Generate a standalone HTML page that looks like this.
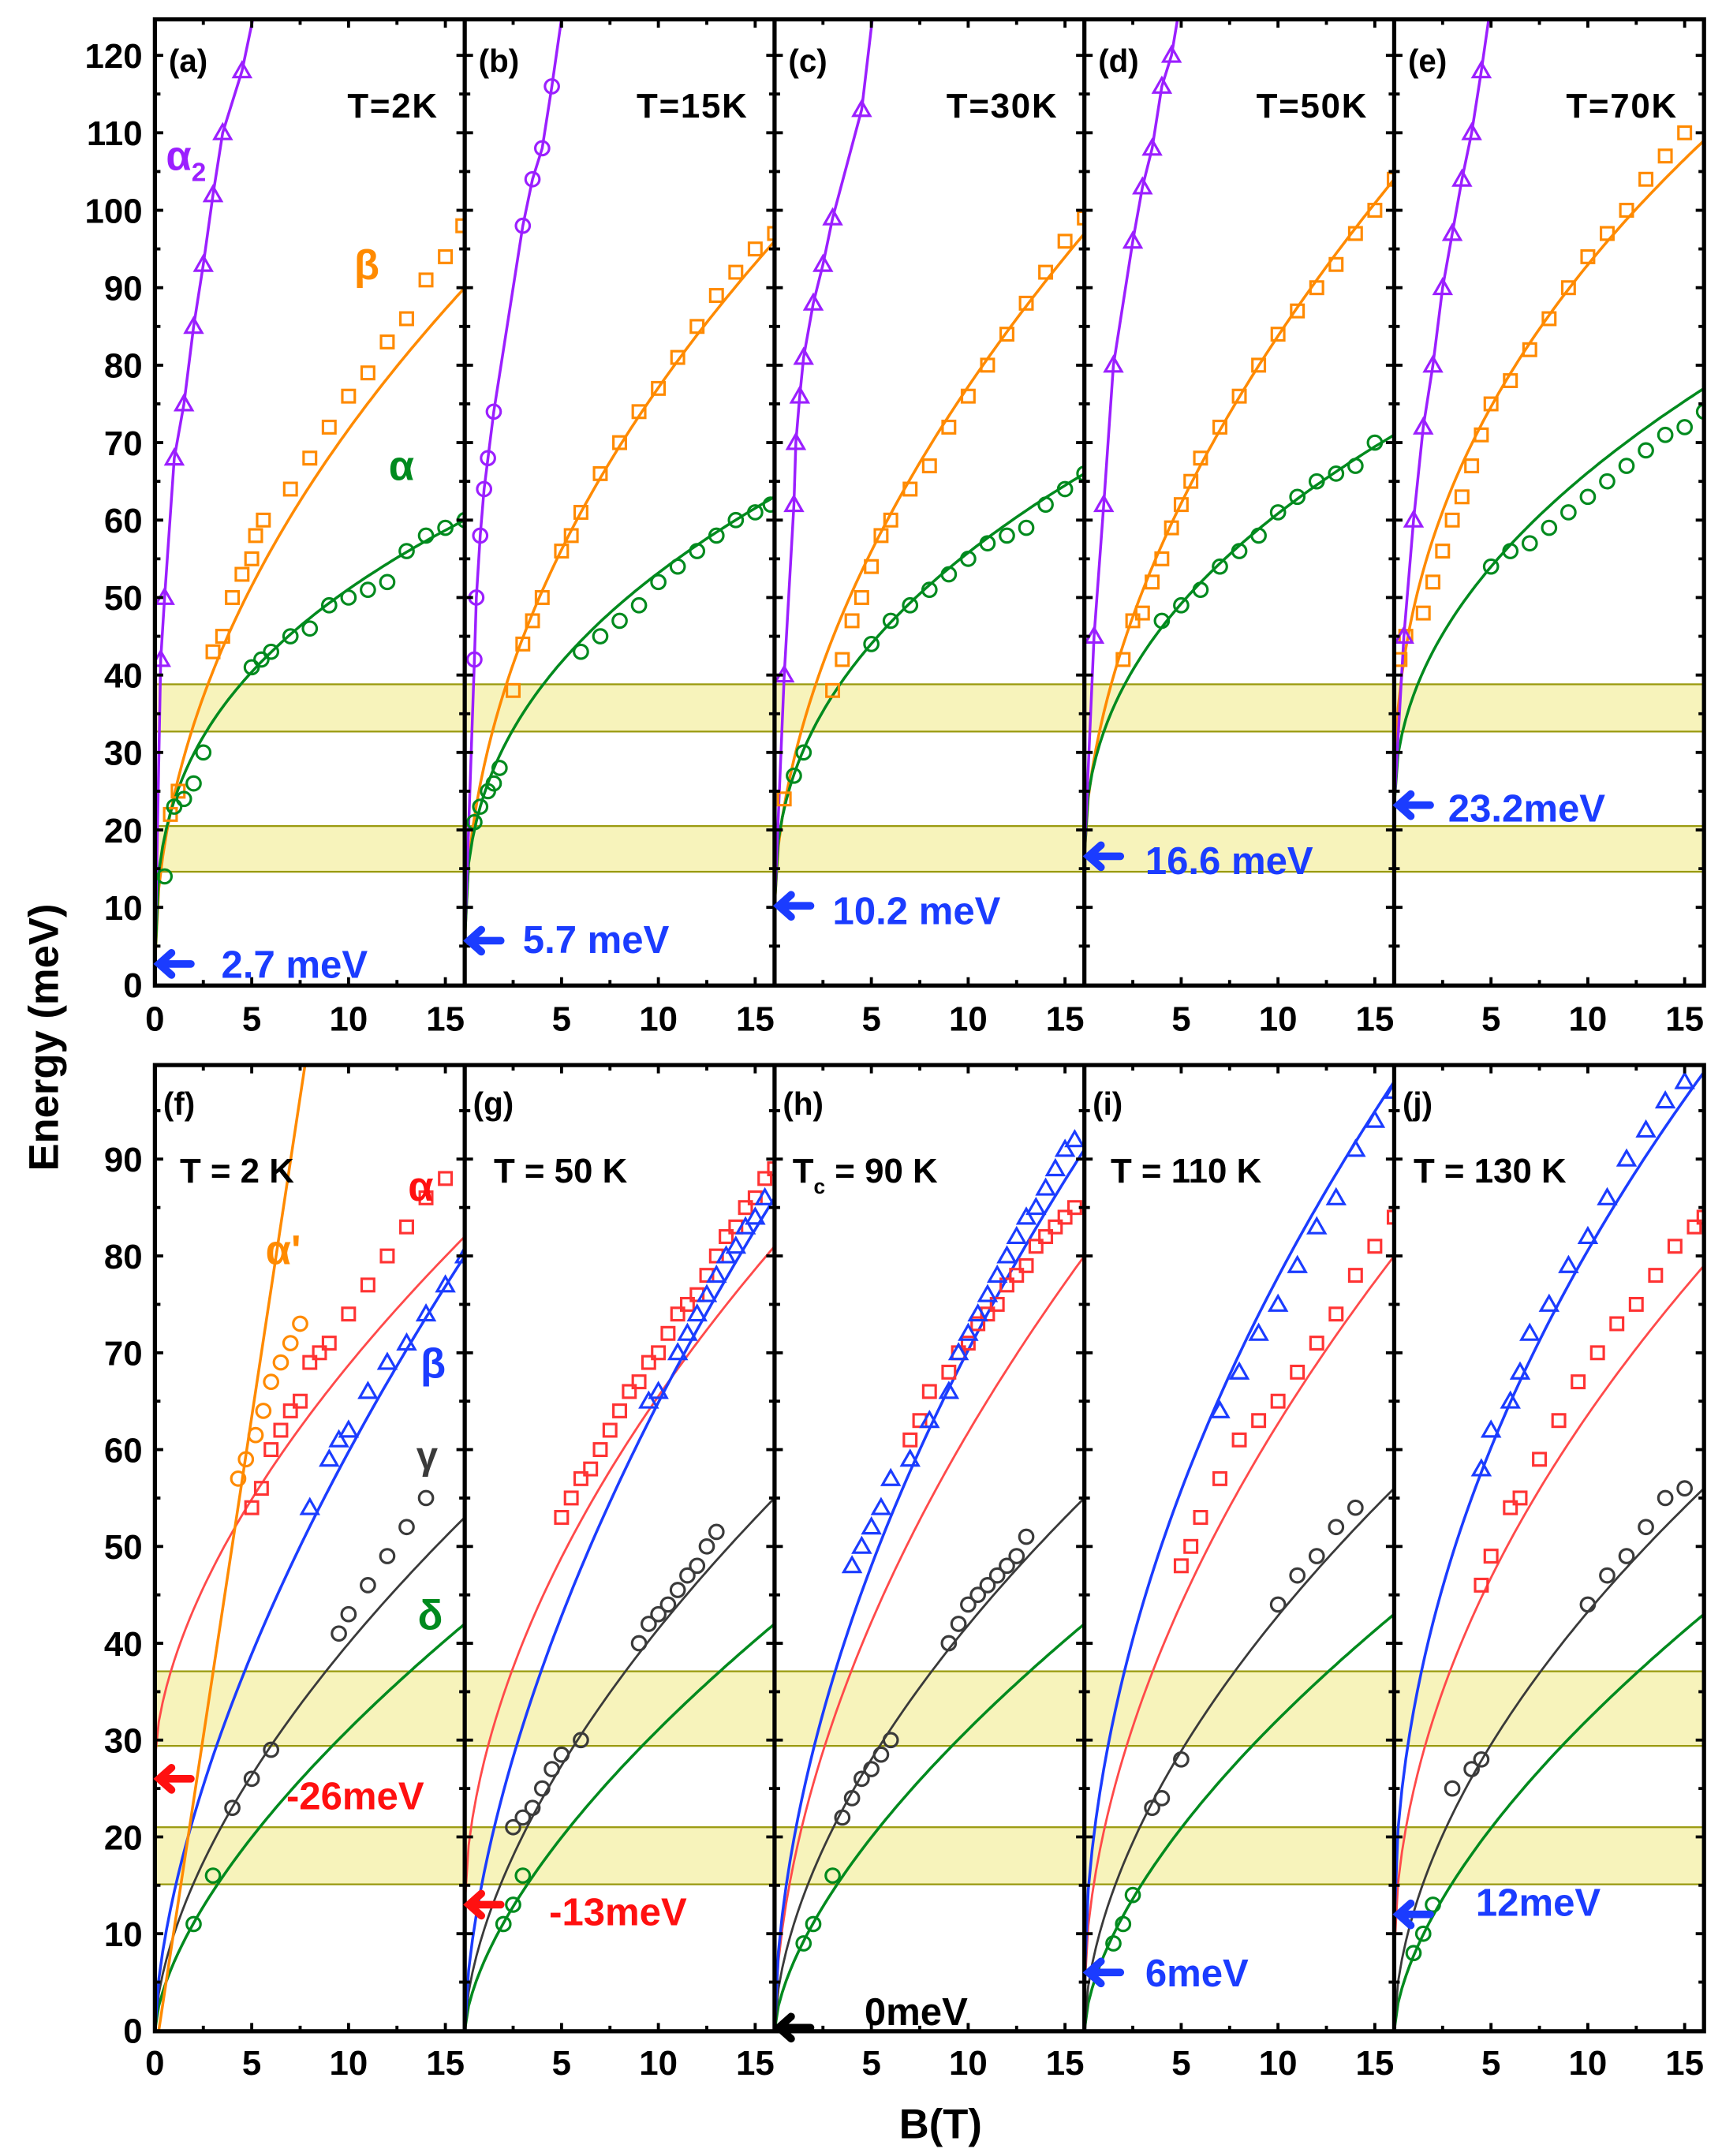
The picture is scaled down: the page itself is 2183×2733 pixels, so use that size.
<!DOCTYPE html>
<html><head><meta charset="utf-8">
<style>
html,body{margin:0;padding:0;background:#fff;}
svg{display:block;}
text{font-family:"Liberation Sans","DejaVu Sans",sans-serif;font-weight:bold;}
</style></head>
<body>
<svg id="s" width="2183" height="2733" viewBox="0 0 1245 1558.7" preserveAspectRatio="none" xmlns="http://www.w3.org/2000/svg"></svg>
<script>
(function(){
const S=document.getElementById('s');
let h='';
const PX=[112,336,560,784,1008];
const TOP={y0:712,k:5.6,top:14,bot:712.5,max:124.6};
const BOT={y0:1468,k:7,top:770,bot:1468.5,max:99.7};
const COL={pu:'#9b1fff',or:'#ff8a00',gr:'#008a1e',bl:'#1b3cff',re:'#ff3333',bk:'#3a3a3a',rl:'#ff4a4a'};
function X(p,b){return PX[p]+b*14;}
function Y(P,e){return P.y0-e*P.k;}
function band(P,a,b){h+=`<rect x="112" y="${Y(P,b)}" width="1120" height="${Y(P,a)-Y(P,b)}" fill="#f7f3bb" stroke="#9a9a10" stroke-width="1.3"/>`;}
band(TOP,32.7,38.8);band(TOP,14.6,20.5);
band(BOT,29.4,37.1);band(BOT,15.1,21);
h+='<defs>';
for(let i=0;i<5;i++){
 h+=`<clipPath id="ct${i}"><rect x="${PX[i]}" y="${TOP.top}" width="224" height="${TOP.bot-TOP.top}"/></clipPath>`;
 h+=`<clipPath id="cb${i}"><rect x="${PX[i]}" y="${BOT.top}" width="224" height="${BOT.bot-BOT.top}"/></clipPath>`;
}
h+='</defs>';
function curve(P,p,cid,c,E0,E16,pw,w){
 let d='';for(let i=0;i<=80;i++){const b=i/5;const e=E0+(E16-E0)*Math.pow(b/16,pw);d+=(i?'L':'M')+X(p,b).toFixed(1)+','+Y(P,e).toFixed(1);}
 h+=`<path d="${d}" fill="none" stroke="${c}" stroke-width="${w||2}" clip-path="url(#${cid})"/>`;
}
function poly(P,p,cid,c,pts,w){
 let d=pts.map((q,i)=>(i?'L':'M')+X(p,q[0]).toFixed(1)+','+Y(P,q[1]).toFixed(1)).join('');
 h+=`<path d="${d}" fill="none" stroke="${c}" stroke-width="${w||2}" clip-path="url(#${cid})"/>`;
}
function mk(P,p,cid,type,c,pts){
 let g=`<g fill="none" stroke="${c}" stroke-width="1.8" clip-path="url(#${cid})">`;
 for(const q of pts){const x=X(p,q[0]),y=Y(P,q[1]);
  if(type=='o')g+=`<circle cx="${x}" cy="${y}" r="5"/>`;
  else if(type=='s')g+=`<rect x="${x-4.5}" y="${y-4.5}" width="9" height="9"/>`;
  else g+=`<polygon points="${x},${y-6} ${x+6},${y+4.5} ${x-6},${y+4.5}"/>`;}
 h+=g+'</g>';
}
const TPD=[
 {E0:2.7,a2:[[0,2.7],[0.3,42],[0.5,50],[1,68],[1.5,75],[2,85],[2.5,93],[3,102],[3.5,110],[4.5,118],[5.5,130]],a2t:'t',
  b:[90,0.5],bp:[[0.8,22],[1.2,25],[3,43],[3.5,45],[4,50],[4.5,53],[5,55],[5.2,58],[5.6,60],[7,64],[8,68],[9,72],[10,76],[11,79],[12,83],[13,86],[14,91],[15,94],[15.9,98]],
  a:[60,0.36],ap:[[0.5,14],[1,23],[1.5,24],[2,26],[2.5,30],[5,41],[5.5,42],[6,43],[7,45],[8,46],[9,49],[10,50],[11,51],[12,52],[13,56],[14,58],[15,59],[16,60]]},
 {E0:5.7,a2:[[0,5.7],[0.5,42],[0.6,50],[0.8,58],[1,64],[1.2,68],[1.5,74],[3,98],[3.5,104],[4,108],[4.5,116],[5.3,130]],a2t:'o',
  b:[96,0.5],bp:[[2.5,38],[3,44],[3.5,47],[4,50],[5,56],[5.5,58],[6,61],[7,66],[8,70],[9,74],[10,77],[11,81],[12,85],[13,89],[14,92],[15,95],[16,97]],
  a:[63,0.4],ap:[[0.5,21],[0.8,23],[1.2,25],[1.5,26],[1.8,28],[6,43],[7,45],[8,47],[9,49],[10,52],[11,54],[12,56],[13,58],[14,60],[15,61],[15.8,62]]},
 {E0:10.2,a2:[[0,10.2],[0.5,40],[1,62],[1.1,70],[1.3,76],[1.5,81],[2,88],[2.5,93],[3,99],[4.5,113],[5.3,130]],a2t:'t',
  b:[97,0.55],bp:[[0.5,24],[3,38],[3.5,42],[4,47],[4.5,50],[5,54],[5.5,58],[6,60],[7,64],[8,67],[9,72],[10,76],[11,80],[12,84],[13,88],[14,92],[15,96],[16,99]],
  a:[66,0.43],ap:[[1,27],[1.5,30],[5,44],[6,47],[7,49],[8,51],[9,53],[10,55],[11,57],[12,58],[13,59],[14,62],[15,64],[16,66]]},
 {E0:16.6,a2:[[0,16.6],[0.5,45],[1,62],[1.5,80],[2.5,96],[3,103],[3.5,108],[4,116],[4.5,120],[5.3,132]],a2t:'t',
  b:[104,0.56],bp:[[2,42],[2.5,47],[3,48],[3.5,52],[4,55],[4.5,59],[5,62],[5.5,65],[6,68],[7,72],[8,76],[9,80],[10,84],[11,87],[12,90],[13,93],[14,97],[15,100],[16,104]],
  a:[71,0.44],ap:[[4,47],[5,49],[6,51],[7,54],[8,56],[9,58],[10,61],[11,63],[12,65],[13,66],[14,67],[15,70]]},
 {E0:23.2,a2:[[0,23.2],[0.5,45],[1,60],[1.5,72],[2,80],[2.5,90],[3,97],[3.5,104],[4,110],[4.5,118],[5.3,132]],a2t:'t',
  b:[109,0.44],bp:[[0.3,42],[0.6,45],[1.5,48],[2,52],[2.5,56],[3,60],[3.5,63],[4,67],[4.5,71],[5,75],[6,78],[7,82],[8,86],[9,90],[10,94],[11,97],[12,100],[13,104],[14,107],[15,110]],
  a:[77,0.48],ap:[[5,54],[6,56],[7,57],[8,59],[9,61],[10,63],[11,65],[12,67],[13,69],[14,71],[15,72],[16,74]]}
];
TPD.forEach((t,i)=>{const c='ct'+i;
 curve(TOP,i,c,COL.or,t.E0,t.b[0],t.b[1]);
 curve(TOP,i,c,COL.gr,t.E0,t.a[0],t.a[1]);
 poly(TOP,i,c,COL.pu,t.a2);
 mk(TOP,i,c,'s',COL.or,t.bp);
 mk(TOP,i,c,'o',COL.gr,t.ap);
 mk(TOP,i,c,t.a2t,COL.pu,t.a2.slice(1,-1));
});
const BTD=[
 {r:[28,82,0.6],b:[0,80,0.62],k:[0,53,0.6],g:[0,42,0.64],
  rp:[[5,54],[5.5,56],[6,60],[6.5,62],[7,64],[7.5,65],[8,69],[8.5,70],[9,71],[10,74],[11,77],[12,80],[13,83],[14,86],[15,88]],
  bp:[[8,54],[9,59],[9.5,61],[10,62],[11,66],[12,69],[13,71],[14,74],[15,77],[16,80]],
  kp:[[4,23],[5,26],[6,29],[9.5,41],[10,43],[11,46],[12,49],[13,52],[14,55]],gp:[[2,11],[3,16]]},
 {r:[13,81,0.55],b:[0,86,0.6],k:[0,55,0.6],g:[0,42,0.64],
  rp:[[5,53],[5.5,55],[6,57],[6.5,58],[7,60],[7.5,62],[8,64],[8.5,66],[9,67],[9.5,69],[10,70],[10.5,72],[11,74],[11.5,75],[12,76],[12.5,78],[13,80],[13.5,82],[14,83],[14.5,85],[15,86],[15.5,88],[16,89]],
  bp:[[9.5,65],[10,66],[11,70],[11.5,72],[12,74],[12.5,76],[13,78],[13.5,80],[14,81],[14.5,83],[15,84],[15.5,86]],
  kp:[[2.5,21],[3,22],[3.5,23],[4,25],[4.5,27],[5,28.5],[6,30],[9,40],[9.5,42],[10,43],[10.5,44],[11,45.5],[11.5,47],[12,48],[12.5,50],[13,51.5]],gp:[[2,11],[2.5,13],[3,16]]},
 {r:[0,80,0.55],b:[0,91,0.55],k:[0,55,0.58],g:[0,42,0.64],
  rp:[[7,61],[7.5,63],[8,66],[9,68],[9.5,70],[10,71],[10.5,73],[11,74],[11.5,75],[12,77],[12.5,78],[13,79],[13.5,81],[14,82],[14.5,83],[15,84],[15.5,85]],
  bp:[[4,48],[4.5,50],[5,52],[5.5,54],[6,57],[7,59],[8,63],[9,66],[9.5,70],[10,72],[10.5,74],[11,76],[11.5,78],[12,80],[12.5,82],[13,84],[13.5,85],[14,87],[14.5,89],[15,91],[15.5,92]],
  kp:[[3.5,22],[4,24],[4.5,26],[5,27],[5.5,28.5],[6,30],[9,40],[9.5,42],[10,44],[10.5,45],[11,46],[11.5,47],[12,48],[12.5,49],[13,51]],gp:[[1.5,9],[2,11],[3,16]]},
 {r:[4,80,0.55],b:[5,98,0.52],k:[0,56,0.57],g:[0,43,0.62],
  rp:[[5,48],[5.5,50],[6,53],[7,57],[8,61],[9,63],[10,65],[11,68],[12,71],[13,74],[14,78],[15,81],[16,84]],
  bp:[[7,64],[8,68],[9,72],[10,75],[11,79],[12,83],[13,86],[14,91],[15,94],[16,97]],
  kp:[[3.5,23],[4,24],[5,28],[10,44],[11,47],[12,49],[13,52],[14,54]],gp:[[1.5,9],[2,11],[2.5,14]]},
 {r:[8,79,0.52],b:[11,99,0.5],k:[0,56,0.55],g:[0,43,0.62],
  rp:[[4.5,46],[5,49],[6,54],[6.5,55],[7.5,59],[8.5,63],[9.5,67],[10.5,70],[11.5,73],[12.5,75],[13.5,78],[14.5,81],[15.5,83],[16,84]],
  bp:[[4.5,58],[5,62],[6,65],[6.5,68],[7,72],[8,75],[9,79],[10,82],[11,86],[12,90],[13,93],[14,96],[15,98]],
  kp:[[3,25],[4,27],[4.5,28],[10,44],[11,47],[12,49],[13,52],[14,55],[15,56]],gp:[[1,8],[1.5,10],[2,13]]}
];
BTD.forEach((t,i)=>{const c='cb'+i;
 curve(BOT,i,c,COL.gr,t.g[0],t.g[1],t.g[2]);
 curve(BOT,i,c,COL.bk,t.k[0],t.k[1],t.k[2],1.6);
 curve(BOT,i,c,COL.rl,t.r[0],t.r[1],t.r[2],1.6);
 curve(BOT,i,c,COL.bl,t.b[0],t.b[1],t.b[2]);
 if(i==0){poly(BOT,0,c,COL.or,[[0.2,0],[8,103]]);
   mk(BOT,0,c,'o',COL.or,[[4.3,57],[4.7,59],[5.2,61.5],[5.6,64],[6,67],[6.5,69],[7,71],[7.5,73]]);}
 mk(BOT,i,c,'s',COL.re,t.rp);
 mk(BOT,i,c,'t',COL.bl,t.bp);
 mk(BOT,i,c,'o',COL.bk,t.kp);
 mk(BOT,i,c,'o',COL.gr,t.gp);
});
function frame(P,ymaj,ymin,ymaxv){
 h+=`<rect x="112" y="${P.top}" width="1120" height="${P.bot-P.top}" fill="none" stroke="#000" stroke-width="3"/>`;
 for(let i=1;i<5;i++)h+=`<line x1="${PX[i]}" y1="${P.top}" x2="${PX[i]}" y2="${P.bot}" stroke="#000" stroke-width="3"/>`;
 let t='';
 for(let i=0;i<5;i++){
  for(let b=2.5;b<16;b+=2.5){const x=X(i,b),L=(b%5==0)?6:4;
   t+=`M${x},${P.bot}v${-L}M${x},${P.top}v${L}`;}
  for(let e=ymin;e<=ymaxv;e+=ymin){const y=Y(P,e),L=(e%ymaj==0)?6:4;
   t+=`M${PX[i]},${y}h${L}M${PX[i]+224},${y}h${-L}`;}
 }
 h+=`<path d="${t}" stroke="#000" stroke-width="2.2"/>`;
}
frame(TOP,10,5,120);frame(BOT,10,5,95);
let tl='';
for(let e=0;e<=120;e+=10)tl+=`<text x="103" y="${Y(TOP,e)+9}" text-anchor="end">${e}</text>`;
for(let e=0;e<=90;e+=10)tl+=`<text x="103" y="${Y(BOT,e)+9}" text-anchor="end">${e}</text>`;
[745,1500].forEach(yy=>{for(let i=0;i<5;i++){const arr=(i==0?[0,5,10,15]:[5,10,15]);for(const b of arr)tl+=`<text x="${X(i,b)}" y="${yy}" text-anchor="middle">${b}</text>`;}});
h+=`<g font-size="25" fill="#000">${tl}</g>`;
h+=`<text x="0" y="0" font-size="30" text-anchor="middle" transform="translate(42,750) rotate(-90)">Energy (meV)</text>`;
h+=`<text x="680" y="1546" font-size="30" text-anchor="middle">B(T)</text>`;
const pl=['(a)','(b)','(c)','(d)','(e)'],tt=['T=2K','T=15K','T=30K','T=50K','T=70K'];
for(let i=0;i<5;i++){h+=`<text x="${PX[i]+10}" y="52" font-size="23">${pl[i]}</text>`;
 h+=`<text x="${PX[i]+205}" y="85" font-size="25" text-anchor="end" letter-spacing="1">${tt[i]}</text>`;}
const pl2=['(f)','(g)','(h)','(i)','(j)'];
for(let i=0;i<5;i++)h+=`<text x="${PX[i]+6}" y="806" font-size="23">${pl2[i]}</text>`;
h+=`<text x="130" y="855" font-size="25">T = 2 K</text>`;
h+=`<text x="357" y="855" font-size="25">T = 50 K</text>`;
h+=`<text x="573" y="855" font-size="25">T<tspan font-size="15" dy="8">c</tspan><tspan dy="-8"> = 90 K</tspan></text>`;
h+=`<text x="803" y="855" font-size="25">T = 110 K</text>`;
h+=`<text x="1022" y="855" font-size="25">T = 130 K</text>`;
h+=`<text x="120" y="123" font-size="30" fill="${COL.pu}">α<tspan font-size="19" dy="8">2</tspan></text>`;
h+=`<text x="256" y="202" font-size="30" fill="${COL.or}">β</text>`;
h+=`<text x="281" y="347" font-size="30" fill="${COL.gr}">α</text>`;
h+=`<text x="192" y="914" font-size="30" fill="${COL.or}">α'</text>`;
h+=`<text x="295" y="868" font-size="30" fill="#ff1010">α</text>`;
h+=`<text x="304" y="996" font-size="30" fill="${COL.bl}">β</text>`;
h+=`<text x="301" y="1062" font-size="28" fill="${COL.bk}">γ</text>`;
h+=`<text x="302" y="1178" font-size="30" fill="${COL.gr}">δ</text>`;
function arrow(x,y,c){h+=`<g stroke="${c}" stroke-width="5.5" fill="none" stroke-linecap="round"><path d="M${x+26},${y}H${x+6}"/><path d="M${x+12},${y-8}L${x+3},${y}L${x+12},${y+8}"/></g>`;}
arrow(112,Y(TOP,2.7),COL.bl);arrow(336,Y(TOP,5.7),COL.bl);arrow(560,Y(TOP,10.2),COL.bl);arrow(784,Y(TOP,16.6),COL.bl);arrow(1008,Y(TOP,23.2),COL.bl);
arrow(112,Y(BOT,26),'#ff1010');arrow(336,Y(BOT,13),'#ff1010');arrow(560,Y(BOT,0.3),'#000');arrow(784,Y(BOT,6),COL.bl);arrow(1008,Y(BOT,12),COL.bl);
function lab(x,y,s,c){h+=`<text x="${x}" y="${y}" font-size="28" fill="${c}">${s}</text>`;}
lab(160,707,'2.7 meV',COL.bl);lab(378,689,'5.7 meV',COL.bl);lab(602,668,'10.2 meV',COL.bl);lab(828,632,'16.6 meV',COL.bl);lab(1047,594,'23.2meV',COL.bl);
lab(207,1308,'-26meV','#ff1010');lab(397,1392,'-13meV','#ff1010');lab(625,1464,'0meV','#000');lab(828,1436,'6meV',COL.bl);lab(1067,1385,'12meV',COL.bl);
S.innerHTML=h;
})();
</script>
</body></html>
